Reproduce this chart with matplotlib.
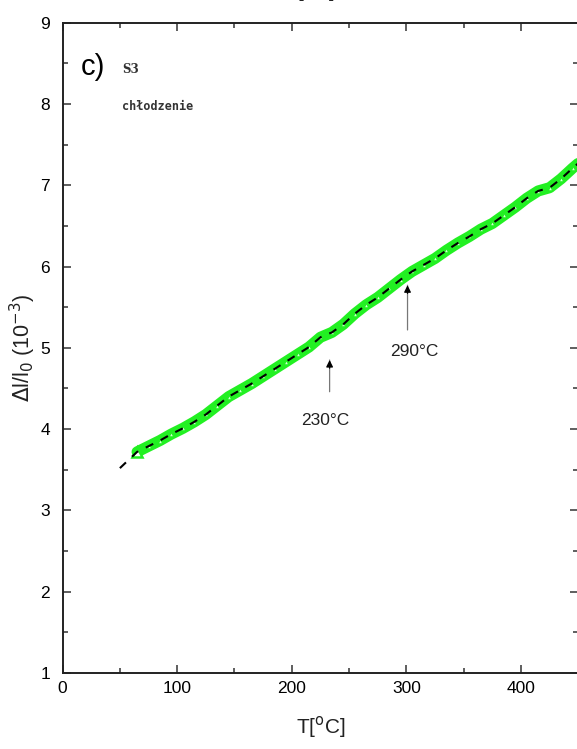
import matplotlib
matplotlib.use("Agg")
import matplotlib.pyplot as plt
from matplotlib.ticker import MultipleLocator

plt.rcParams['font.family'] = ['Liberation Sans', 'DejaVu Sans']

# Cooling run, sample S3: relative elongation vs temperature
temp = [65, 75, 85, 95, 105, 115, 125, 135, 145, 155, 165, 175, 185, 195,
        205, 215, 225, 235, 245, 255, 265, 275, 285, 295, 305, 315, 325,
        335, 345, 355, 365, 375, 385, 395, 405, 415, 425, 435, 445, 450]
dl = [3.72, 3.79, 3.86, 3.94, 4.01, 4.09, 4.18, 4.29, 4.40, 4.48, 4.56,
      4.65, 4.74, 4.83, 4.92, 5.01, 5.13, 5.19, 5.29, 5.42, 5.53, 5.62,
      5.73, 5.84, 5.94, 6.02, 6.10, 6.20, 6.29, 6.37, 6.46, 6.53, 6.63,
      6.73, 6.84, 6.93, 6.97, 7.08, 7.21, 7.27]

# dashed guide line, starting slightly below the first measured point
fit_temp = [50] + temp
fit_dl = [3.52] + dl

# marked transition temperatures: (T, arrow tail, arrow head, label x, label y)
marks_T = [233, 301]
marks_tail = [4.46, 5.22]
marks_head = [4.85, 5.77]
marks_label = ["230°C", "290°C"]
marks_lx = [229, 307]
marks_ly = [4.11, 4.95]

fig = plt.figure(figsize=(5.77, 7.49), dpi=100)
ax = fig.add_axes([0.1085, 0.1015, 0.8937, 0.8682])

ax.plot(temp, dl, color='#22f022', lw=8, solid_capstyle='round', zorder=2)
ax.plot(temp, dl, linestyle='none', marker='^', markersize=3.5,
        markerfacecolor='#d8ffd8', markeredgecolor='#22f022',
        markeredgewidth=1.0, zorder=3)
ax.plot(temp[:1], dl[:1], linestyle='none', marker='^', markersize=7,
        markerfacecolor='white', markeredgecolor='#22f022',
        markeredgewidth=1.8, zorder=3)
ax.plot(fit_temp, fit_dl, color='black', lw=1.5, dashes=(4, 4), zorder=4)

for t, a0, a1, lab, lx, ly in zip(marks_T, marks_tail, marks_head,
                                   marks_label, marks_lx, marks_ly):
    ax.annotate('', xy=(t, a1), xytext=(t, a0),
                arrowprops=dict(arrowstyle='-', color='#777777', lw=0.9,
                                shrinkA=0, shrinkB=0))
    ax.annotate('', xy=(t, a1), xytext=(t, a1 - 0.1),
                arrowprops=dict(arrowstyle='-|>', color='black', lw=0.9,
                                mutation_scale=10, shrinkA=0, shrinkB=0))
    ax.text(lx, ly, lab, ha='center', va='center', fontsize=12.5,
            color='#222222')

ax.set_xlim(0, 450)
ax.set_ylim(1, 9)
ax.xaxis.set_major_locator(MultipleLocator(100))
ax.xaxis.set_minor_locator(MultipleLocator(50))
ax.yaxis.set_major_locator(MultipleLocator(1))
ax.yaxis.set_minor_locator(MultipleLocator(0.5))
ax.tick_params(which='both', direction='in', top=True, right=True,
               labelsize=12.5, width=1.1, color='#333333')
ax.tick_params(which='major', length=6, pad=6)
ax.tick_params(axis='y', which='major', pad=9)
ax.tick_params(which='minor', length=3.5)
for sp in ax.spines.values():
    sp.set_linewidth(1.4)
    sp.set_color('#222222')

ax.set_xlabel('T[$^{\\mathrm{o}}$C]', fontsize=15, labelpad=13, color='#222222')
ax.set_ylabel('$\\Delta$l/l$_\\mathrm{0}$ (10$^{-3}$)', fontsize=15.5,
              labelpad=2, color='#222222')

ax.text(16, 8.45, 'c)', fontsize=21, ha='left', va='center')
ax.text(52, 8.42, 'S3', fontsize=8.5, fontweight='bold', ha='left',
        va='center', color='#333333', family='DejaVu Serif')
ax.text(52, 7.97, 'chłodzenie', fontsize=8.5, fontweight='bold', ha='left',
        va='center', color='#333333', family='DejaVu Sans Mono')

# axis title of the panel above, mostly outside the canvas
fig.text(0.537, 0.994, 'T[$^{\\mathrm{o}}$C]', fontsize=15, ha='center',
         va='bottom', color='#222222')

fig.savefig('out.png', dpi=100)
